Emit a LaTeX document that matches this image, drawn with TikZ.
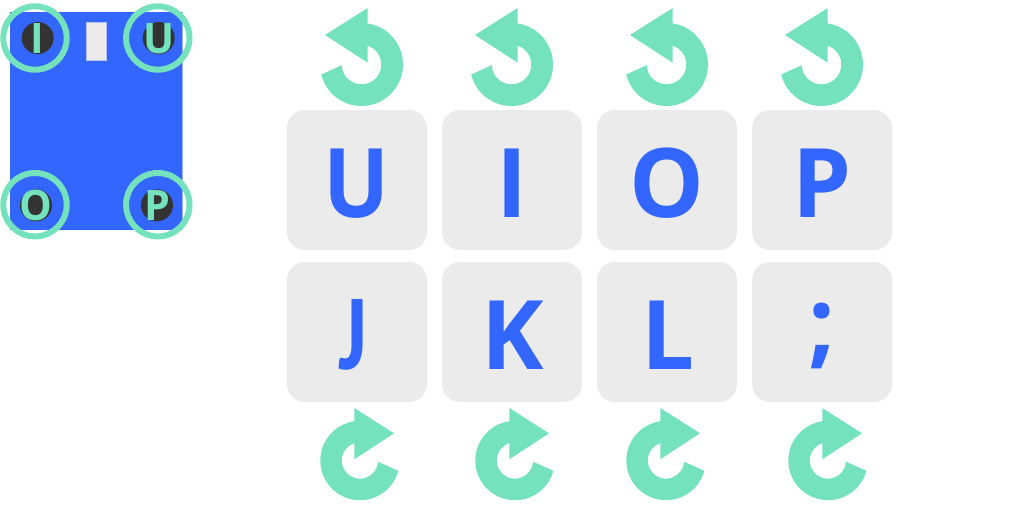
\documentclass[tikz,border=0pt]{standalone}
\usepackage{fontspec}
\setmainfont[FakeStretch=0.98]{Open Sans}
\newfontfamily\jfont{Carlito}
\definecolor{kblue}{HTML}{3366FF}
\definecolor{kgreen}{HTML}{74E2BC}
\definecolor{kgrey}{HTML}{EBEBEB}
\definecolor{kdark}{HTML}{333333}
\tikzset{
  keycard/.style={fill=kgrey,rounded corners=18pt},
  bigletter/.style={text=kblue,font=\fontsize{96}{96}\selectfont\bfseries,anchor=base,inner sep=0pt},
  smallletter/.style={text=kgreen,font=\fontsize{42}{42}\selectfont\bfseries,anchor=base,inner sep=0pt},
  ring/.style={draw=kgreen,line width=6pt},
  hole/.style={fill=kdark},
  rot/.style={fill=kgreen,draw=none}
}
\newcommand{\ccwarrow}[1]{%
  \begin{scope}[xshift=#1pt]
  \fill[rot] (361.5,64.5) ++(194:41.5pt) arc[start angle=194,end angle=441.4,radius=41.5pt]
     -- (367.7,8) -- (325,35) -- (367.7,62.7) -- (367.7,45.7)
     arc[start angle=71.8,end angle=-178,radius=19.8pt] -- cycle;
  \end{scope}}
\newcommand{\cwarrow}[1]{%
  \begin{scope}[xshift=#1pt]
  \fill[rot] (360,460.5) ++(-15:39.7pt) arc[start angle=-15,end angle=-261.7,radius=39.7pt]
     -- (354.3,408) -- (394,433.3) -- (354.3,459.3) -- (354.3,443.2)
     arc[start angle=108.2,end angle=356,radius=18.2pt] -- cycle;
  \end{scope}}
\begin{document}
\begin{tikzpicture}[x=1pt,y=-1pt]
\useasboundingbox (0,0) rectangle (1024,512);
% device
\fill[kblue] (10.3,12) rectangle (182.7,229.5);
\draw[kblue!50!white,line width=0.6pt] (182.7,12) -- (182.7,229.5);
\fill[kgrey,draw=kblue!30!kgrey,line width=0.6pt] (86.4,21.8) rectangle (106.6,59.8);
\fill[hole] (37.7,38) circle (16);
\fill[hole] (158.7,38) circle (16);
\fill[hole] (36,205.3) circle (16);
\fill[hole] (157,205.3) circle (16);
\node[smallletter] (si) at (37,53) {I};
\node[smallletter] (su) at (158.8,53) {U};
\node[smallletter] (so) at (35.5,220.3) {O};
\node[smallletter] (sp) at (157,220.3) {P};
\draw[ring] (35,38) circle (31.7);
\draw[ring] (157.8,38) circle (31.7);
\draw[ring] (35,204.7) circle (31.7);
\draw[ring] (157.8,204.7) circle (31.7);
% keys
\foreach \x/\n in {287/a,442/b,597/c,752/d}{
  \fill[keycard] (\x,110) rectangle ++(140,140);
  \fill[keycard] (\x,262) rectangle ++(140,140);
}
\node[bigletter] (ku) at (357,217.3) {\scalebox{.93}[1]{U}};
\node[bigletter] (ki) at (512,217.3) {I};
\node[bigletter] (ko) at (667,217.3) {O};
\node[bigletter] (kp) at (822,217.3) {P};
\node[bigletter,font=\fontsize{108}{108}\selectfont\bfseries\jfont] (kj) at (352.5,369.3) {\scalebox{.8}[1]{J}};
\node[bigletter] (kk) at (513,369.3) {K};
\node[bigletter] (kl) at (668,369.3) {L};
\node[bigletter] (ks) at (822,356) {;};
% arrows
\foreach \o in {0,150,305,460}{\ccwarrow{\o}}
\foreach \o in {0,155,306,468}{\cwarrow{\o}}
\end{tikzpicture}
\end{document}
